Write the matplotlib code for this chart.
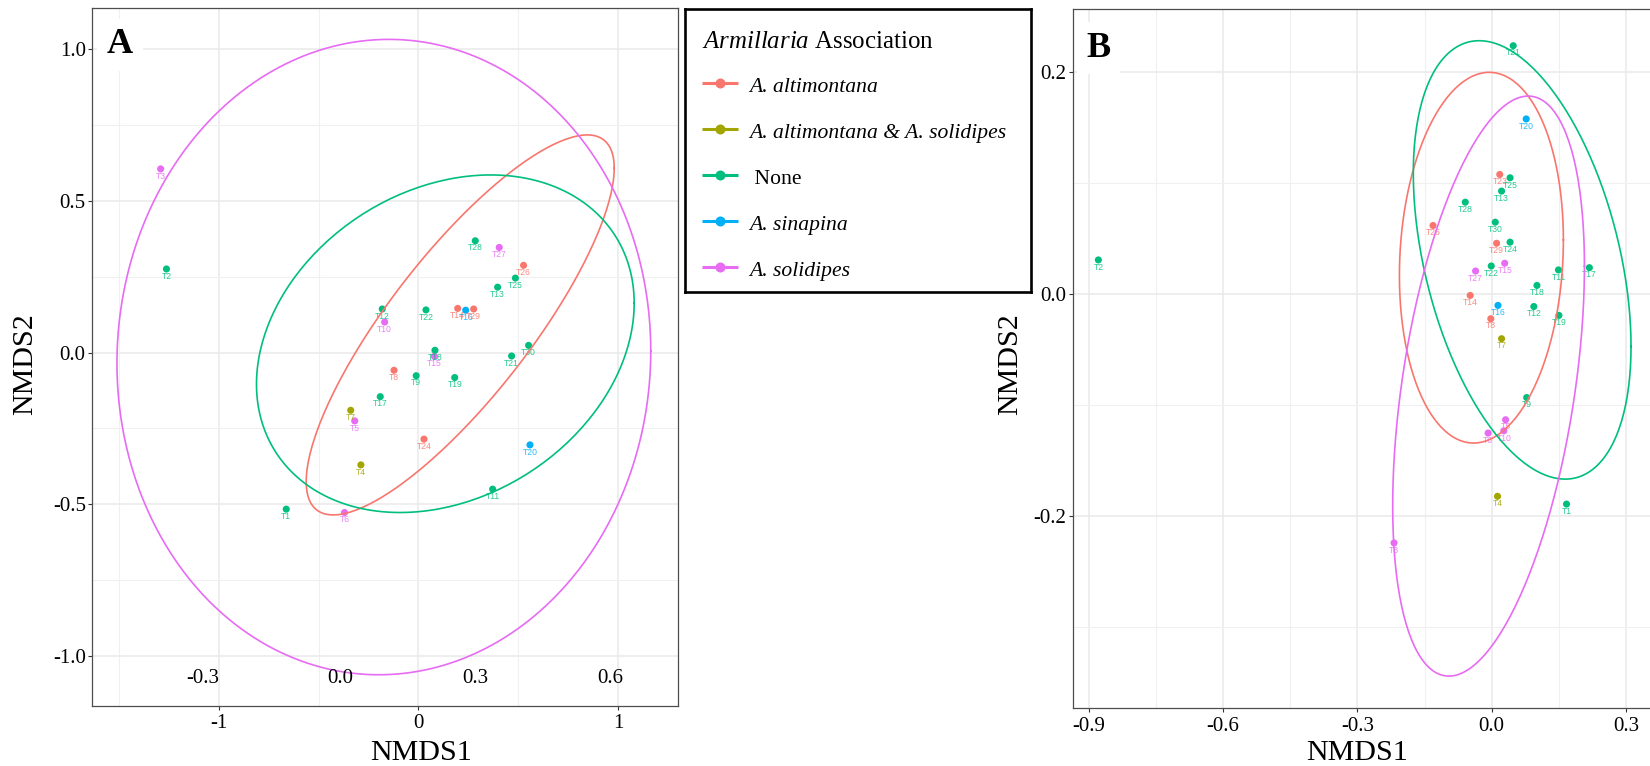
import numpy as np
import matplotlib
matplotlib.use("Agg")
import matplotlib.pyplot as plt
from matplotlib.ticker import FixedLocator

plt.rcParams['font.family'] = ['Liberation Serif', 'DejaVu Serif']
plt.rcParams['axes.unicode_minus'] = False
plt.rcParams['mathtext.fontset'] = 'custom'
plt.rcParams['mathtext.rm'] = 'Liberation Serif'
plt.rcParams['mathtext.it'] = 'Liberation Serif:italic'

# ---------------- data ----------------
groups = ["alt", "both", "none", "sin", "sol"]
group_labels = ["A. altimontana", "A. altimontana & A. solidipes", " None", "A. sinapina", "A. solidipes"]
group_italic = [True, True, False, True, True]
group_colors = ["#F8766D", "#A3A500", "#00BF7D", "#00B0F6", "#E76BF3"]
legend_title = r"$\mathit{Armillaria}$ Association"

# Panel A
a_names = ["T1", "T2", "T3", "T4", "T5", "T6", "T7", "T8", "T9", "T10",
           "T11", "T12", "T13", "T14", "T15", "T16", "T17", "T18", "T19", "T20",
           "T21", "T22", "T24", "T25", "T26", "T27", "T28", "T29", "T30"]
a_x = [-0.662, -1.262, -1.291, -0.288, -0.319, -0.370, -0.339, -0.122, -0.011, -0.169,
       0.372, -0.181, 0.397, 0.197, 0.080, 0.237, -0.191, 0.083, 0.182, 0.559,
       0.467, 0.038, 0.028, 0.486, 0.527, 0.405, 0.285, 0.277, 0.552]
a_y = [-0.516, 0.276, 0.606, -0.370, -0.225, -0.527, -0.190, -0.058, -0.076, 0.101,
       -0.450, 0.144, 0.216, 0.146, -0.012, 0.140, -0.145, 0.008, -0.082, -0.304,
       -0.011, 0.141, -0.285, 0.246, 0.288, 0.347, 0.369, 0.144, 0.024]
a_group = ["none", "none", "sol", "both", "sol", "sol", "both", "alt", "none", "sol",
           "none", "none", "none", "alt", "sol", "sin", "none", "none", "none", "sin",
           "none", "none", "alt", "none", "alt", "sol", "none", "alt", "none"]

# Panel B
b_names = ["T1", "T2", "T3", "T4", "T5", "T6", "T7", "T8", "T9", "T10",
           "T11", "T12", "T13", "T14", "T15", "T16", "T17", "T18", "T19", "T20",
           "T21", "T22", "T23", "T24", "T25", "T26", "T27", "T28", "T29", "T30"]
b_x = [0.167, -0.878, -0.218, 0.013, 0.031, -0.008, 0.022, -0.002, 0.078, 0.027,
       0.149, 0.094, 0.022, -0.048, 0.029, 0.014, 0.218, 0.101, 0.150, 0.077,
       0.048, -0.001, 0.018, 0.041, 0.041, -0.131, -0.036, -0.059, 0.011, 0.008]
b_y = [-0.189, 0.031, -0.224, -0.182, -0.113, -0.125, -0.040, -0.022, -0.093, -0.123,
       0.022, -0.011, 0.093, -0.001, 0.028, -0.010, 0.024, 0.008, -0.019, 0.158,
       0.224, 0.0255, 0.108, 0.047, 0.105, 0.062, 0.021, 0.083, 0.046, 0.065]
b_group = ["none", "none", "sol", "both", "sol", "sol", "both", "alt", "none", "sol",
           "none", "none", "none", "alt", "sol", "sin", "none", "none", "none", "sin",
           "none", "none", "alt", "none", "none", "alt", "sol", "none", "alt", "none"]

# Ellipses (centre, x half-extent, y half-extent, y-offset at rightmost point)
ell_a_group = ["alt", "none", "sol"]
ell_a_cx = [0.2095, 0.135, -0.173]
ell_a_cy = [0.0915, 0.0295, -0.0145]
ell_a_rx = [0.7715, 0.946, 1.337]
ell_a_ry = [0.6265, 0.5565, 1.0475]
ell_a_c = [0.5165, 0.1335, 0.02]

ell_b_group = ["alt", "none", "sol"]
ell_b_cx = [-0.023, 0.068, -0.007]
ell_b_cy = [0.033, 0.031, -0.0827]
ell_b_rx = [0.183, 0.243, 0.214]
ell_b_ry = [0.167, 0.1975, 0.2613]
ell_b_c = [0.016, -0.078, 0.108]

# Tick labels
a_xticks = [-1, 0, 1]
a_xticklabels = ["-1", "0", "1"]
a_yticks = [-1.0, -0.5, 0.0, 0.5, 1.0]
a_yticklabels = ["-1.0", "-0.5", "0.0", "0.5", "1.0"]
a_stray_labels = ["-0.3", "0.0", "0.3", "0.6"]
b_xticks = [-0.9, -0.6, -0.3, 0.0, 0.3]
b_xticklabels = ["-0.9", "-0.6", "-0.3", "0.0", "0.3"]
b_yticks = [-0.2, 0.0, 0.2]
b_yticklabels = ["-0.2", "0.0", "0.2"]

# ---------------- figure ----------------
W, H = 1650, 766
fig = plt.figure(figsize=(W / 100, H / 100), dpi=100)
fig.patch.set_facecolor("white")

color_of = dict(zip(groups, group_colors))


def px_axes(left, top, right, bottom):
    return fig.add_axes([left / W, 1 - bottom / H, (right - left) / W, (bottom - top) / H])


def style_axes(ax, xt, xtl, yt, ytl, xminor, yminor):
    ax.set_facecolor("white")
    ax.xaxis.set_major_locator(FixedLocator(xt))
    ax.set_xticklabels(xtl)
    ax.yaxis.set_major_locator(FixedLocator(yt))
    ax.set_yticklabels(ytl)
    ax.xaxis.set_minor_locator(FixedLocator(xminor))
    ax.yaxis.set_minor_locator(FixedLocator(yminor))
    ax.grid(which="major", color="#EBEBEB", linewidth=1.2, zorder=0)
    ax.grid(which="minor", color="#F0F0F0", linewidth=0.8, zorder=0)
    ax.set_axisbelow(True)
    ax.tick_params(which="major", length=3, width=0.8, color="#333333",
                   labelsize=15, pad=1.5, labelcolor="black")
    ax.tick_params(axis="x", which="major", pad=3)
    ax.tick_params(which="minor", length=0)
    for s in ax.spines.values():
        s.set_color("#4d4d4d")
        s.set_linewidth(0.9)


def draw_panel(ax, names, xs, ys, grp, eg, ecx, ecy, erx, ery, ec):
    xs = np.asarray(xs)
    ys = np.asarray(ys)
    cols = [color_of[g] for g in grp]
    ax.scatter(xs, ys, s=26, c=cols, linewidths=0, zorder=3)
    for n, x, y, c in zip(names, xs, ys, cols):
        ax.annotate(n, (x, y), xytext=(0, -5.2), textcoords="offset points",
                    ha="center", va="center", fontsize=6.2, color=c, alpha=0.85,
                    family=["Liberation Sans", "DejaVu Sans"], zorder=3)
    t = np.linspace(0, 2 * np.pi, 240)
    for g, cx, cy, rx, ry, c in zip(eg, ecx, ecy, erx, ery, ec):
        d = np.sqrt(max(ry ** 2 - c ** 2, 0.0))
        ax.plot(cx + rx * np.cos(t), cy + c * np.cos(t) + d * np.sin(t),
                color=color_of[g], linewidth=1.2, zorder=4)


# Panel A
axA = px_axes(92, 8.3, 677.5, 706)
axA.set_xlim(-1.635, 1.298)
axA.set_ylim(-1.165, 1.1355)
style_axes(axA, a_xticks, a_xticklabels, a_yticks, a_yticklabels,
           [-1.5, -0.5, 0.5], [-0.75, -0.25, 0.25, 0.75])
draw_panel(axA, a_names, a_x, a_y, a_group,
           ell_a_group, ell_a_cx, ell_a_cy, ell_a_rx, ell_a_ry, ell_a_c)
axA.set_xlabel("NMDS1", fontsize=21.6, va="baseline")
axA.xaxis.set_label_coords((421 - 92) / 585.5, (706 - 760) / 697.7)
axA.set_ylabel("NMDS2", fontsize=21.6, va="center")
axA.yaxis.set_label_coords((25 - 92) / 585.5, (706 - 364) / 697.7)
for lab, fx in zip(a_stray_labels, [202.5, 340.7, 475, 610]):
    axA.text((fx - 92) / 585.5, (706 - 683.3) / 697.7, lab, transform=axA.transAxes,
             ha="center", va="baseline", fontsize=15, color="black", zorder=5)
axA.text((107 - 92) / 585.5, (706 - 53.3) / 697.7, "A", transform=axA.transAxes,
         ha="left", va="baseline", fontsize=26, fontweight="bold", zorder=6,
         bbox=dict(facecolor="white", edgecolor="none", pad=7))

# Panel B
bl, br = 1072.6, 1665
axB = px_axes(bl, 9.3, br, 708.3)
axB.set_xlim(-0.9355, (br - 1491.7) / 448)
axB.set_ylim(-0.373, 0.2568)
style_axes(axB, b_xticks, b_xticklabels, b_yticks, b_yticklabels,
           [-0.75, -0.45, -0.15, 0.15], [-0.3, -0.1, 0.1])
draw_panel(axB, b_names, b_x, b_y, b_group,
           ell_b_group, ell_b_cx, ell_b_cy, ell_b_rx, ell_b_ry, ell_b_c)
axB.set_xlabel("NMDS1", fontsize=21.6, va="baseline")
axB.xaxis.set_label_coords((1357.5 - bl) / (br - bl), (708.3 - 760) / 699)
axB.set_ylabel("NMDS2", fontsize=21.6, va="center")
axB.yaxis.set_label_coords((1010 - bl) / (br - bl), (708.3 - 364) / 699)
axB.text((1086.6 - bl) / (br - bl), (708.3 - 56.7) / 699, "B", transform=axB.transAxes,
         ha="left", va="baseline", fontsize=26, fontweight="bold", zorder=6,
         bbox=dict(facecolor="white", edgecolor="none", pad=7))

# Legend (box in pixel coordinates)
lx0, ly0, lx1, ly1 = 685, 9.3, 1030.7, 292
lax = px_axes(lx0, ly0, lx1, ly1)
lax.set_xlim(0, lx1 - lx0)
lax.set_ylim(ly1 - ly0, 0)
lax.set_xticks([])
lax.set_yticks([])
for s in lax.spines.values():
    s.set_linewidth(1.9)
    s.set_color("black")
lax.text(16.7, 39, legend_title, fontsize=17.9, ha="left", va="baseline")
row_y = [74, 120, 165.7, 211.4, 257.4]
for lab, it, col, yy in zip(group_labels, group_italic, group_colors, row_y):
    lax.plot([16.7, 53.3], [yy, yy], color=col, linewidth=2.2, solid_capstyle="butt")
    lax.plot([35], [yy], marker="o", markersize=7.2, color=col, markeredgewidth=0)
    lax.text(64.3, yy + 9, lab, fontsize=15.6, ha="left", va="baseline",
             fontstyle="italic" if it else "normal")

fig.savefig("out.png", dpi=100, facecolor="white")
